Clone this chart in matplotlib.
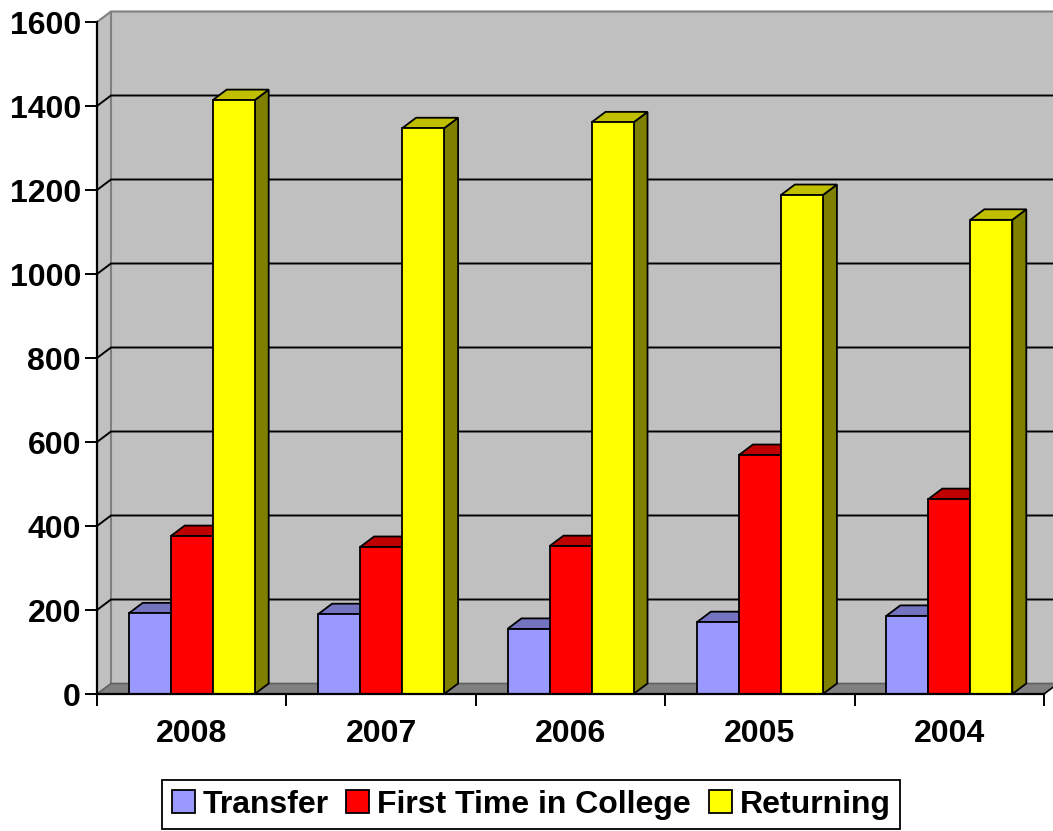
import matplotlib
matplotlib.use("Agg")
import matplotlib.pyplot as plt
from matplotlib.patches import Polygon, Patch

plt.rcParams['font.family'] = ['Liberation Sans', 'DejaVu Sans']
plt.rcParams['font.weight'] = 'bold'

# ---- data ----
years = ['2008', '2007', '2006', '2005', '2004']
series_names = ['Transfer', 'First Time in College', 'Returning']
transfer = [192, 190, 155, 171, 186]
ftic = [376, 350, 352, 569, 464]
returning = [1414, 1347, 1361, 1188, 1129]
yticks = [0, 200, 400, 600, 800, 1000, 1200, 1400, 1600]

front_colors = ['#9999FF', '#FF0000', '#FFFF00']
top_colors = ['#7373BF', '#BF0000', '#BFBF00']
side_colors = ['#4D4D80', '#800000', '#808000']

FS = 23

W, H = 1053, 831
fig = plt.figure(figsize=(W / 100, H / 100), dpi=100)
ax = fig.add_axes([97 / W, 137 / H, 947 / W, 672 / H])
ax.set_xlim(-0.5, 4.5)
ax.set_ylim(0, 1600)
ax.patch.set_visible(False)

# depth offsets in data units
px_per_cat = 947 / 5
px_per_val = 672 / 1600
DX = 14 / px_per_cat
DY = 10.5 / px_per_val
BW = 42 / px_per_cat

wall = '#C0C0C0'
edge_gray = '#808080'
# back wall
ax.add_patch(Polygon([(-0.5 + DX, DY), (4.5 + DX, DY), (4.5 + DX, 1600 + DY), (-0.5 + DX, 1600 + DY)],
                     closed=True, facecolor=wall, edgecolor='none', clip_on=False, zorder=0))
# side wall
ax.add_patch(Polygon([(-0.5, 0), (-0.5 + DX, DY), (-0.5 + DX, 1600 + DY), (-0.5, 1600)],
                     closed=True, facecolor=wall, edgecolor='none', clip_on=False, zorder=0))
# floor
ax.add_patch(Polygon([(-0.5, 0), (4.5, 0), (4.5 + DX, DY), (-0.5 + DX, DY)],
                     closed=True, facecolor='#808080', edgecolor='none', clip_on=False, zorder=0.5))
# wall edges
ax.plot([-0.5 + DX, -0.5 + DX], [DY, 1600 + DY], color=edge_gray, lw=1.5, clip_on=False, zorder=1)
ax.plot([-0.5, -0.5 + DX, 4.5 + DX], [1600, 1600 + DY, 1600 + DY], color=edge_gray, lw=1.5, clip_on=False, zorder=1)
ax.plot([-0.5, -0.5 + DX, 4.5 + DX], [0, DY, DY], color='#606060', lw=1.2, clip_on=False, zorder=1)
ax.plot([4.5, 4.5 + DX], [0, DY], color='black', lw=1.2, clip_on=False, zorder=1)

# gridlines on side and back walls
for v in yticks[1:-1]:
    ax.plot([-0.5, -0.5 + DX, 4.5 + DX], [v, v + DY, v + DY], color='black', lw=1.4,
            clip_on=False, zorder=1)

# bars
data = [transfer, ftic, returning]
xs = list(range(len(years)))
for j, vals in enumerate(data):
    centers = [x + (j - 1) * BW for x in xs]
    z = 3 + j
    for c, v in zip(centers, vals):
        x0, x1 = c - BW / 2, c + BW / 2
        ax.add_patch(Polygon([(x1, 0), (x1, v), (x1 + DX, v + DY), (x1 + DX, DY)], closed=True,
                             facecolor=side_colors[j], edgecolor='black', lw=1.3,
                             joinstyle='miter', clip_on=False, zorder=z))
        ax.add_patch(Polygon([(x0, v), (x1, v), (x1 + DX, v + DY), (x0 + DX, v + DY)], closed=True,
                             facecolor=top_colors[j], edgecolor='black', lw=1.3,
                             joinstyle='miter', clip_on=False, zorder=z))
    ax.bar(centers, vals, width=BW, color=front_colors[j], edgecolor='black', linewidth=1.3,
           zorder=z + 0.5, clip_on=False)

# axes styling
for s in ['top', 'right']:
    ax.spines[s].set_visible(False)
for s in ['left', 'bottom']:
    ax.spines[s].set_color('black')
    ax.spines[s].set_linewidth(1.6)
    ax.spines[s].set_zorder(10)

ax.set_yticks(yticks)
ax.set_yticklabels([str(v) for v in yticks])
ax.tick_params(axis='y', direction='out', length=8.5, width=1.4, pad=3, labelsize=FS)

ax.set_xticks([x - 0.5 for x in range(len(years) + 1)])
ax.set_xticklabels([])
ax.set_xticks(xs, minor=True)
ax.set_xticklabels(years, minor=True)
ax.tick_params(axis='x', which='major', direction='out', length=8.5, width=1.4)
ax.tick_params(axis='x', which='minor', length=0, pad=18, labelsize=FS)

handles = [Patch(facecolor=front_colors[j], edgecolor='black', linewidth=1.3) for j in range(3)]
leg = fig.legend(handles, series_names, loc='upper center', bbox_to_anchor=(531 / W, 1 - 780 / H),
                 ncol=3, frameon=True, fancybox=False, shadow=False, borderpad=0.3,
                 borderaxespad=0.0,
                 handlelength=0.72, handleheight=0.72, handletextpad=0.25, columnspacing=0.55,
                 prop={'weight': 'bold', 'size': FS, 'family': ['Liberation Sans', 'DejaVu Sans']})
leg.get_frame().set_edgecolor('black')
leg.get_frame().set_linewidth(1.3)
leg.get_frame().set_alpha(None)

fig.savefig('out.png', dpi=100, facecolor='white')
